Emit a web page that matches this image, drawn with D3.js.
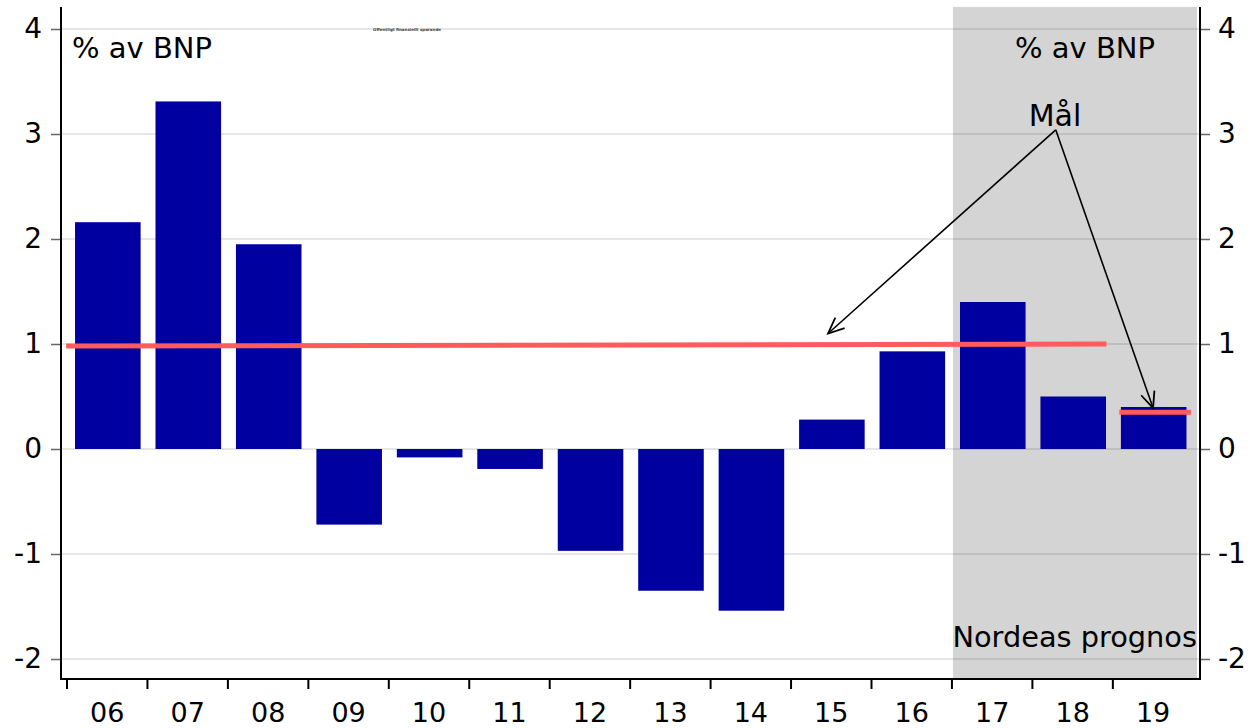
<!DOCTYPE html>
<html><head><meta charset="utf-8">
<script src="https://cdn.jsdelivr.net/npm/d3@7"></script>
<style>body{margin:0;background:#fff}svg{display:block;font-family:"DejaVu Sans",sans-serif}</style>
</head><body><svg id="c" width="1252" height="728"></svg>
<script>
const categories = ["06","07","08","09","10","11","12","13","14","15","16","17","18","19"];
const balance = [2.16,3.31,1.95,-0.72,-0.08,-0.19,-0.97,-1.35,-1.54,0.28,0.93,1.40,0.50,0.40];
const yTicks = [-2,-1,0,1,2,3,4];
const forecastFrom = "17";
// target segments: [start category position, end category position, start value, end value]
const targetSegments = [
  {x0: -0.01, x1: 12.92, v0: 0.98, v1: 1.00},
  {x0: 13.08, x1: 13.97, v0: 0.35, v1: 0.35}
];
const arrowFrom = {xi: 12.29, v: 3.04};
const arrowTips = [{xi: 9.46, v: 1.10}, {xi: 13.5, v: 0.39}];

const svg = d3.select("#c");
const L = 61, R = 1200, T = 7, B = 679;
const x = d3.scaleBand().domain(categories).range([67, 67 + 80.45*14]);
const xi = d3.scaleLinear().domain([0,14]).range([67, 67 + 80.45*14]);
const y = d3.scaleLinear().domain([-2,4]).range([659, 29]);
const bw = x.bandwidth();
const fmt = d => String(d);

// forecast shading
svg.append("rect").attr("x", x(forecastFrom)+1).attr("y", T)
  .attr("width", R - 3 - (x(forecastFrom)+1)).attr("height", B - T).attr("fill", "#d4d4d4");

// gridlines
svg.append("g").selectAll("line").data(yTicks).join("line")
  .attr("x1", L).attr("x2", R).attr("y1", d=>y(d)).attr("y2", d=>y(d))
  .attr("stroke", "rgba(0,0,0,0.2)").attr("stroke-width", 1.2);

// bars
svg.append("g").selectAll("rect").data(categories).join("rect")
  .attr("x", d=>x(d)+bw*0.1).attr("width", bw*0.815)
  .attr("y", (d,i)=>y(Math.max(0,balance[i])))
  .attr("height", (d,i)=>Math.abs(y(balance[i])-y(0)))
  .attr("fill", "#0000a0");

// target lines
svg.append("g").selectAll("line").data(targetSegments).join("line")
  .attr("x1", d=>xi(d.x0)).attr("x2", d=>xi(d.x1))
  .attr("y1", d=>y(d.v0)).attr("y2", d=>y(d.v1))
  .attr("stroke", "#ff5a5c").attr("stroke-width", 5);

// axes
const yl = d3.axisLeft(y).tickValues(yTicks).tickSize(10).tickPadding(9).tickFormat(fmt);
const gl = svg.append("g").attr("transform", `translate(${L},0)`).call(yl);
const yr = d3.axisRight(y).tickValues(yTicks).tickSize(10).tickPadding(8).tickFormat(fmt);
const gr = svg.append("g").attr("transform", `translate(${R},0)`).call(yr);
for (const g of [gl, gr]) {
  g.select(".domain").remove();
  g.selectAll(".tick line").attr("stroke", "#666").attr("stroke-width", 1.5);
  g.selectAll(".tick text").attr("font-size", 28).attr("fill", "#000").attr("font-family", "DejaVu Sans");
}
const xa = d3.axisBottom(x).tickSize(0).tickPadding(0);
const gx = svg.append("g").attr("transform", `translate(0,${B})`).call(xa);
gx.select(".domain").remove();
gx.selectAll(".tick text").attr("font-size", 27).attr("fill", "#000").attr("font-family", "DejaVu Sans")
  .attr("y", 43).attr("dy", 0);
svg.append("g").selectAll("line").data(categories).join("line")
  .attr("x1", d=>x(d)).attr("x2", d=>x(d)).attr("y1", B).attr("y2", B+10)
  .attr("stroke", "#000").attr("stroke-width", 2);

svg.append("line").attr("x1", L).attr("x2", L).attr("y1", T).attr("y2", B+1).attr("stroke","#000").attr("stroke-width",2);
svg.append("line").attr("x1", R).attr("x2", R).attr("y1", T).attr("y2", B+1).attr("stroke","#000").attr("stroke-width",2);
svg.append("line").attr("x1", L-1).attr("x2", R+1).attr("y1", B).attr("y2", B).attr("stroke","#000").attr("stroke-width",2);

// texts
const txt = (s, xp, yp, anchor, size) => svg.append("text").attr("x", xp).attr("y", yp)
  .attr("text-anchor", anchor).attr("font-size", size).attr("fill", "#000").text(s);
txt("% av BNP", 72, 58, "start", 29);
txt("% av BNP", 1085, 58, "middle", 29);
txt("Nordeas prognos", 1197, 647, "end", 28.8);
txt("Mål", 1055, 126, "middle", 30);
svg.append("text").attr("x", 407).attr("y", 31).attr("text-anchor","middle")
  .attr("font-size", 4).attr("font-weight","bold").attr("fill","#444").text("Offentligt finansiellt sparande");

// arrows
svg.append("defs").append("marker").attr("id","ah").attr("viewBox","0 0 20 20")
  .attr("refX", 18).attr("refY", 10).attr("markerWidth", 20).attr("markerHeight", 20)
  .attr("markerUnits","userSpaceOnUse").attr("orient","auto")
  .append("path").attr("d","M2,3 L18,10 L2,17").attr("fill","none").attr("stroke","#000").attr("stroke-width",1.8);
svg.append("g").selectAll("line").data(arrowTips).join("line")
  .attr("x1", xi(arrowFrom.xi)).attr("y1", y(arrowFrom.v))
  .attr("x2", d=>xi(d.xi)).attr("y2", d=>y(d.v))
  .attr("stroke","#000").attr("stroke-width",1.6).attr("marker-end","url(#ah)");
</script></body></html>
